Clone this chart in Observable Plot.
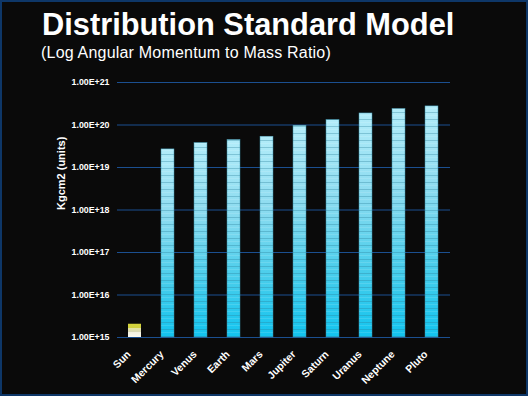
<!DOCTYPE html>
<html>
<head>
<meta charset="utf-8">
<script src="https://cdn.jsdelivr.net/npm/d3@7"></script>
<script src="https://cdn.jsdelivr.net/npm/@observablehq/plot@0.6"></script>
<style>
  html, body { margin: 0; padding: 0; background: #ffffff; }
  #frame {
    position: relative; width: 528px; height: 396px; box-sizing: border-box;
    background: #0a0a0a; border: 2px solid #0e3768; overflow: hidden;
    font-family: "Liberation Sans", Arial, Helvetica, sans-serif; color: #ffffff;
  }
  #title { position: absolute; left: 40px; top: 8px; font-size: 30.8px; font-weight: bold; line-height: 30px; white-space: nowrap; }
  #subtitle { position: absolute; left: 39px; top: 43px; font-size: 16px; line-height: 16px; letter-spacing: 0.2px; white-space: nowrap; }
  #chart { position: absolute; left: -2px; top: 68px; width: 528px; height: 328px; }
  #chart svg { max-width: none !important; }
</style>
</head>
<body>
<div id="frame">
  <div id="title">Distribution Standard Model</div>
  <div id="subtitle">(Log Angular Momentum to Mass Ratio)</div>
  <div id="chart"></div>
</div>
<script>
const bodies = ["Sun", "Mercury", "Venus", "Earth", "Mars", "Jupiter", "Saturn", "Uranus", "Neptune", "Pluto"];
const ratios = [2.05e15, 2.67e19, 3.77e19, 4.44e19, 5.3e19, 9.6e19, 1.31e20, 1.87e20, 2.38e20, 2.74e20];
const yTicks = [1e15, 1e16, 1e17, 1e18, 1e19, 1e20, 1e21];
const yTickLabels = ["1.00E+15", "1.00E+16", "1.00E+17", "1.00E+18", "1.00E+19", "1.00E+20", "1.00E+21"];
const yTitle = "Kgcm2 (units)";

const data = bodies.map((b, i) => ({ body: b, value: ratios[i], base: yTicks[0], star: b === "Sun" }));

const plot = Plot.plot({
  width: 528,
  height: 328,
  marginTop: 12,
  marginBottom: 61,
  marginLeft: 117,
  marginRight: 78,
  style: { background: "transparent", color: "#ffffff", fontFamily: "'Liberation Sans', Arial, sans-serif", overflow: "visible" },
  x: { domain: bodies, paddingInner: 0.6, paddingOuter: 0.3, label: null },
  y: { type: "log", domain: [yTicks[0], yTicks[yTicks.length - 1]], label: null },
  marks: [
    Plot.ruleY(yTicks, { stroke: "#1b4f90", strokeWidth: 1 }),
    Plot.barY(data.filter(d => d.star), { x: "body", y1: "base", y2: "value", fill: "url(#sunGrad)" }),
    Plot.barY(data.filter(d => !d.star), { x: "body", y1: "base", y2: "value", fill: "url(#planetGrad)", stroke: "#3b8fa8", strokeWidth: 0.5 }),
    Plot.barY(data.filter(d => !d.star), { x: "body", y1: "base", y2: "value", fill: "url(#stripes)" }),
    Plot.axisY({ ticks: yTicks, tickFormat: (d) => yTickLabels[yTicks.indexOf(d)], tickSize: 0, tickPadding: 8, fontSize: 8.8, fontWeight: "bold", label: null }),
    Plot.axisX({ tickSize: 0, tickRotate: -45, tickPadding: 15, dx: -6, fontSize: 10.5, fontWeight: "bold", label: null }),
    Plot.text([yTitle], { frameAnchor: "left", dx: -56, rotate: -90, fontSize: 11, fontWeight: "bold", fill: "#ffffff" })
  ]
});

const svg = d3.select(plot);
const defs = svg.insert("defs", ":first-child");
const pg = defs.append("linearGradient").attr("id", "planetGrad").attr("x1", 0).attr("y1", 0).attr("x2", 0).attr("y2", 1);
[["0%", "#b2ecf9"], ["35%", "#8edcf0"], ["70%", "#49cdeb"], ["100%", "#12c4ef"]].forEach(([o, c]) => pg.append("stop").attr("offset", o).attr("stop-color", c));
const sg = defs.append("linearGradient").attr("id", "sunGrad").attr("x1", 0).attr("y1", 0).attr("x2", 0).attr("y2", 1);
[["0%", "#d6d63a"], ["30%", "#d0d040"], ["31%", "#e6e6a0"], ["62%", "#d8d8b8"], ["63%", "#f4f2e0"], ["100%", "#fbfaf0"]].forEach(([o, c]) => sg.append("stop").attr("offset", o).attr("stop-color", c));
const pat = defs.append("pattern").attr("id", "stripes").attr("patternUnits", "userSpaceOnUse").attr("width", 4).attr("height", 7);
pat.append("rect").attr("x", 0).attr("y", 0).attr("width", 4).attr("height", 1).attr("fill", "#2a7f98").attr("fill-opacity", 0.35);
pat.append("rect").attr("x", 0).attr("y", 3).attr("width", 4).attr("height", 1).attr("fill", "#ffffff").attr("fill-opacity", 0.12);

plot.style.maxWidth = "none";
document.getElementById("chart").appendChild(plot);
</script>
</body>
</html>
